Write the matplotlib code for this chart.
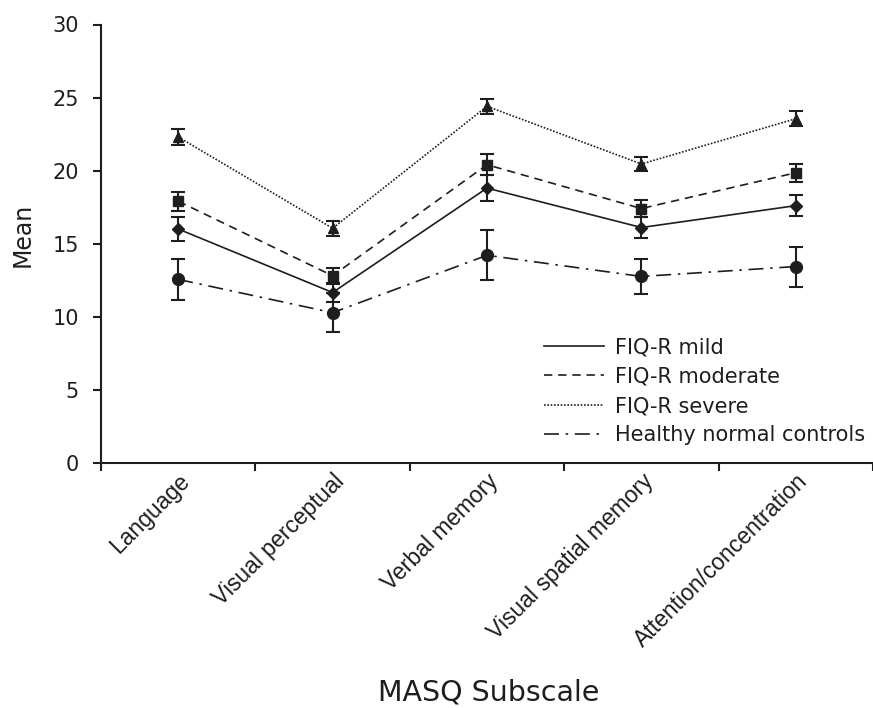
import matplotlib
matplotlib.use("Agg")
import matplotlib.pyplot as plt
import matplotlib.transforms as mtransforms
from matplotlib.lines import Line2D
import numpy as np

categories = ["Language", "Visual perceptual", "Verbal memory",
              "Visual spatial memory", "Attention/concentration"]

mild = [16.0, 11.65, 18.8, 16.1, 17.6]
mild_err = [0.8, 0.65, 0.9, 0.7, 0.74]
moderate = [17.9, 12.8, 20.4, 17.4, 19.85]
moderate_err = [0.65, 0.55, 0.73, 0.57, 0.6]
severe = [22.3, 16.05, 24.4, 20.45, 23.55]
severe_err = [0.55, 0.5, 0.5, 0.5, 0.5]
controls = [12.55, 10.27, 14.2, 12.75, 13.43]
controls_err = [1.4, 1.33, 1.7, 1.17, 1.37]

series_names = ["FIQ-R mild", "FIQ-R moderate", "FIQ-R severe", "Healthy normal controls"]

plt.rcParams['font.family'] = ['DejaVu Sans']
col = '#1e1e1e'

fig = plt.figure(figsize=(8.73, 7.08), dpi=100)
ax = fig.add_axes([101/873, 1-462.7/708, 1-101/873, (462.7-24.5)/708])

x = np.arange(1, len(categories)+1)
styles = [
    (mild, mild_err, '-', 'D', 6.5),
    (moderate, moderate_err, (0, (5, 3.5)), 's', 6.5),
    (severe, severe_err, (0, (1, 1)), '^', 7.0),
    (controls, controls_err, (0, (9, 4, 1.5, 4)), 'o', 8.5),
]
handles = []
for (vals, errs, ls, mk, ms), name in zip(styles, series_names):
    ax.errorbar(x, vals, yerr=errs, fmt='none', ecolor=col, elinewidth=1.5,
                capsize=5, capthick=1.5, zorder=3)
    ax.plot(x, vals, linestyle=ls, color=col, linewidth=1.2, zorder=2)
    ax.plot(x, vals, linestyle='none', marker=mk, markersize=ms, color=col,
            markeredgecolor=col, zorder=4)
    handles.append(Line2D([], [], linestyle=ls, color=col, linewidth=1.2, label=name))

ax.set_xlim(0.5, 5.5)
ax.set_ylim(0, 30)
ax.set_yticks([0, 5, 10, 15, 20, 25, 30])
ax.set_xticks(x)
ax.set_xticklabels(categories, rotation=45, ha='right', rotation_mode='anchor',
                   fontsize=16.5, color=col, family=['Liberation Sans', 'DejaVu Sans'])
offset = mtransforms.ScaledTranslation(12/100, 0, fig.dpi_scale_trans)
for lbl in ax.get_xticklabels():
    lbl.set_transform(lbl.get_transform() + offset)
ax.set_xticks(np.arange(0.5, 6.0, 1.0), minor=True)
ax.tick_params(axis='x', which='major', length=0, pad=5)
ax.tick_params(axis='x', which='minor', length=6, width=1.5, direction='out', color=col)
ax.tick_params(axis='y', length=6, width=1.5, direction='out', labelsize=15,
               color=col, labelcolor=col, pad=10)

for s in ['top', 'right']:
    ax.spines[s].set_visible(False)
for s in ['left', 'bottom']:
    ax.spines[s].set_linewidth(1.5)
    ax.spines[s].set_color(col)
ax.spines['bottom'].set_clip_on(False)

ax.set_ylabel('Mean', fontsize=17, color=col)
ax.yaxis.set_label_coords(-0.086, 0.52)
ax.set_xlabel('MASQ Subscale', fontsize=20.5, color=col)
ax.xaxis.set_label_coords(0.5026, -0.4915)

leg = ax.legend(handles=handles, loc='upper left', bbox_to_anchor=(0.56, 0.31),
                frameon=False, fontsize=15, handlelength=2.9, handletextpad=0.5,
                labelspacing=0.45, borderpad=0)
for t in leg.get_texts():
    t.set_color(col)

fig.savefig('out.png', dpi=100)
